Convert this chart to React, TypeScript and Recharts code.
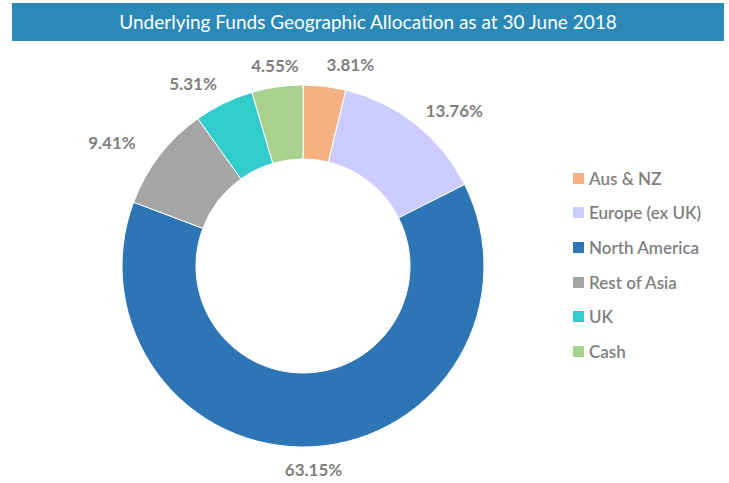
import React from "react";
import { PieChart, Pie, Cell, Legend } from "recharts";

const regions = ["Aus & NZ", "Europe (ex UK)", "North America", "Rest of Asia", "UK", "Cash"];
const shares = [3.81, 13.76, 63.15, 9.41, 5.31, 4.55];
const COLORS = ["#f4b183", "#ccccff", "#2e75b6", "#a5a5a5", "#33cccc", "#a9d18e"];

const data = regions.map((name, i) => ({ name, value: shares[i] }));

const RAD = Math.PI / 180;

function renderLabel(props: any) {
  const { cx, cy, midAngle, outerRadius, value } = props;
  const cos = Math.cos(-midAngle * RAD);
  const sin = Math.sin(-midAngle * RAD);
  const r = outerRadius + 16;
  // labels on the far left sit a bit further out in the original
  const x = cx + r * cos - Math.max(0, -cos - 0.7) * 120;
  const y = cy + r * sin;
  const anchor = cos > 0.1 ? "start" : cos < -0.15 ? "end" : "middle";
  return (
    <text
      x={x}
      y={y + 7 + sin * 6 + (cos > 0.3 ? 3 : 0)}
      textAnchor={anchor}
      fill="#7f7f7f"
      fontSize={17}
      fontWeight={700}
      fontFamily="Lato, 'Open Sans', sans-serif"
    >
      {value.toFixed(2)}%
    </text>
  );
}

function LegendList({ payload }: any) {
  const items = [...(payload || [])].sort(
    (a: any, b: any) => regions.indexOf(a.value) - regions.indexOf(b.value)
  );
  return (
    <div>
      {items.map((p: any) => (
        <div key={p.value} style={{ height: 34.6, display: "flex", alignItems: "center" }}>
          <span style={{ width: 11, height: 11, background: p.color, display: "inline-block", marginRight: 5 }} />
          <span style={{ fontSize: 17, color: "#7f7f7f", fontWeight: 600, fontFamily: "Lato, 'Open Sans', sans-serif" }}>
            {p.value}
          </span>
        </div>
      ))}
    </div>
  );
}

export default function App() {
  return (
    <div style={{ position: "absolute", left: 0, top: 0, width: 729, height: 483, background: "#fff" }}>
      <div
        style={{
          position: "absolute",
          left: 12,
          top: 3,
          width: 712,
          height: 38,
          background: "#2a89b7",
          color: "#fff",
          fontFamily: "Lato, 'Open Sans', sans-serif",
          fontSize: 19,
          lineHeight: "38px",
          textAlign: "center",
        }}
      >
        Underlying Funds Geographic Allocation as at 30 June 2018
      </div>
      <div style={{ position: "absolute", left: 0, top: 0 }}>
        <PieChart width={729} height={483} margin={{ top: 0, right: 0, bottom: 0, left: 0 }}>
          <Pie
            data={data}
            dataKey="value"
            nameKey="name"
            cx={303}
            cy={266}
            innerRadius={107}
            outerRadius={181}
            startAngle={90}
            endAngle={-270}
            stroke="#ffffff"
            strokeWidth={1}
            label={renderLabel}
            labelLine={false}
            isAnimationActive={false}
          >
            {data.map((d, i) => (
              <Cell key={d.name} fill={COLORS[i]} />
            ))}
          </Pie>
          <Legend
            layout="vertical"
            align="right"
            verticalAlign="top"
            itemSorter={null as any}
            content={<LegendList />}
            wrapperStyle={{ left: 573, top: 161, width: 150 }}
          />
        </PieChart>
      </div>
    </div>
  );
}
